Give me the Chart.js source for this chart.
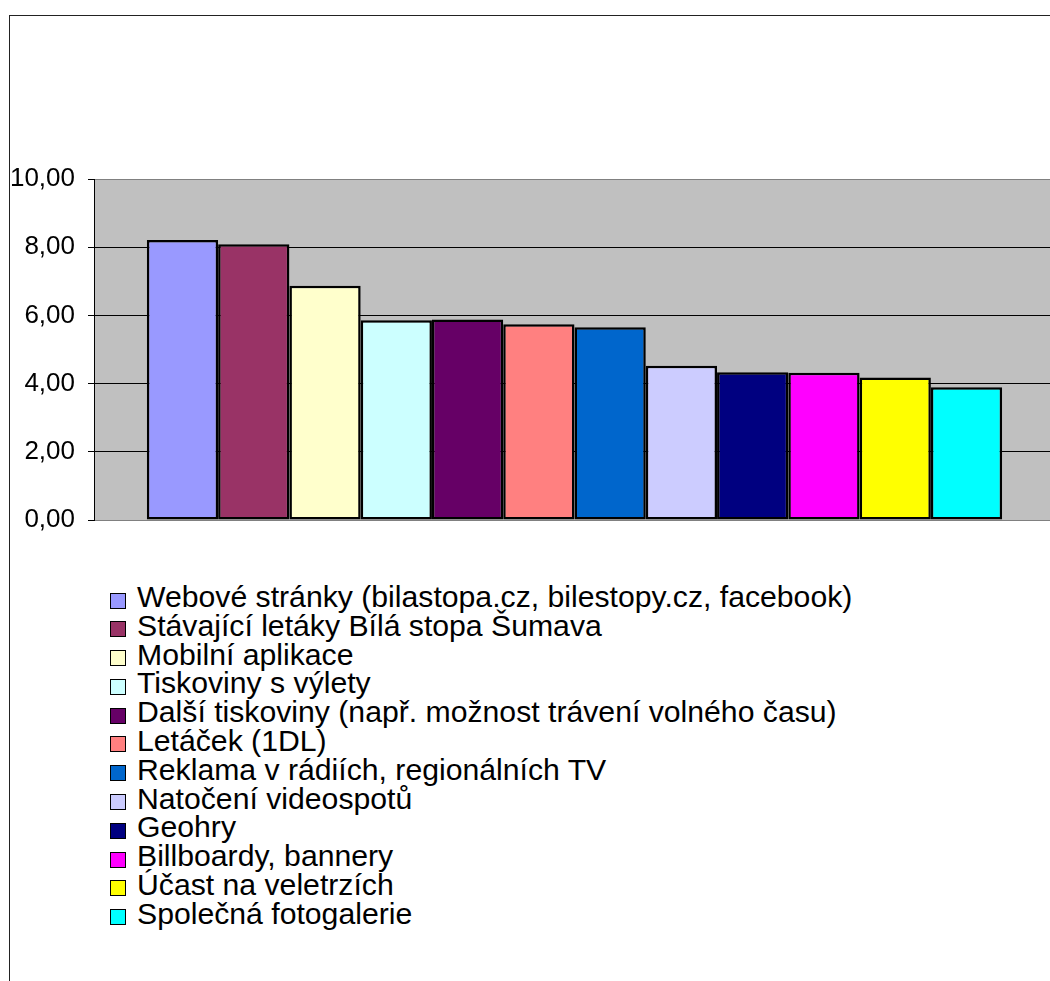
<!DOCTYPE html>
<html>
<head>
<meta charset="utf-8">
<script src="https://cdn.jsdelivr.net/npm/chart.js@4"></script>
<style>
  html, body { margin: 0; padding: 0; background: #fff; overflow: hidden; width: 1050px; height: 981px; }
  #frame { position: absolute; left: 9px; top: 15px; width: 1100px; height: 1000px; border-top: 1px solid #222; border-left: 1px solid #222; }
  #c { position: absolute; left: 0; top: 0; }
  #legend { position: absolute; left: 110px; top: 583px; font-family: "Liberation Sans", Arial, sans-serif; font-size: 30.2px; color: #000; }
  .row { position: relative; height: 28.8px; line-height: 28.8px; white-space: nowrap; }
  .box { position: absolute; left: 0; top: 9.5px; width: 14px; height: 14px; border: 1.5px solid #000; }
  .txt { position: absolute; left: 27px; top: 0; }
</style>
</head>
<body>
<div id="frame"></div>
<canvas id="c" width="1070" height="560"></canvas>
<div id="legend"></div>
<script>
const seriesNames = [
  "Webové stránky (bilastopa.cz, bilestopy.cz, facebook)",
  "Stávající letáky Bílá stopa Šumava",
  "Mobilní aplikace",
  "Tiskoviny s výlety",
  "Další tiskoviny (např. možnost trávení volného času)",
  "Letáček (1DL)",
  "Reklama v rádiích, regionálních TV",
  "Natočení videospotů",
  "Geohry",
  "Billboardy, bannery",
  "Účast na veletrzích",
  "Společná fotogalerie"
];
const seriesValues = [8.21, 8.09, 6.87, 5.86, 5.88, 5.74, 5.65, 4.52, 4.33, 4.32, 4.18, 3.89];
const seriesColors = ["#9999FF", "#993366", "#FFFFCC", "#CCFFFF", "#660066", "#FF8080", "#0066CC", "#CCCCFF", "#000080", "#FF00FF", "#FFFF00", "#00FFFF"];
const categories = [""];
const yTickValues = [0, 2, 4, 6, 8, 10];

const datasets = seriesNames.map((name, i) => ({
  label: name,
  data: [seriesValues[i]],
  backgroundColor: seriesColors[i],
  borderColor: "#000",
  borderWidth: 2.5,
  borderSkipped: false,
  categoryPercentage: 0.89,
  barPercentage: 1.0
}));

const plotBg = {
  id: "plotBg",
  beforeDraw(chart) {
    const a = chart.chartArea, ctx = chart.ctx;
    ctx.save();
    ctx.fillStyle = "#C0C0C0";
    ctx.fillRect(a.left, a.top, a.right - a.left, a.bottom - a.top);
    ctx.restore();
  }
};

const chart = new Chart(document.getElementById("c"), {
  type: "bar",
  data: { labels: categories, datasets },
  options: {
    responsive: false,
    animation: false,
    layout: { padding: { left: 0, top: 179, right: 15, bottom: 40 } },
    plugins: { legend: { display: false }, tooltip: { enabled: false } },
    scales: {
      x: { display: false, offset: true },
      y: {
        min: 0, max: 10,
        afterBuildTicks(scale) { scale.ticks = yTickValues.map(v => ({ value: v })); },
        afterFit(scale) { scale.width = 94; },
        ticks: {
          color: "#000",
          padding: 13,
          font: { family: "'Liberation Sans', Arial, sans-serif", size: 26 },
          callback: v => Number(v).toFixed(2).replace(".", ",")
        },
        grid: {
          color: ctx => (ctx.tick && (ctx.tick.value === 0 || ctx.tick.value === 10)) ? "#808080" : "#000",
          tickColor: "#000",
          tickLength: 6,
          lineWidth: 1
        },
        border: { display: true, color: "#000", width: 1 }
      }
    }
  },
  plugins: [plotBg]
});

const legend = document.getElementById("legend");
chart.data.datasets.forEach(ds => {
  const row = document.createElement("div");
  row.className = "row";
  const box = document.createElement("span");
  box.className = "box";
  box.style.background = ds.backgroundColor;
  const txt = document.createElement("span");
  txt.className = "txt";
  txt.textContent = ds.label;
  row.appendChild(box);
  row.appendChild(txt);
  legend.appendChild(row);
});
</script>
</body>
</html>
